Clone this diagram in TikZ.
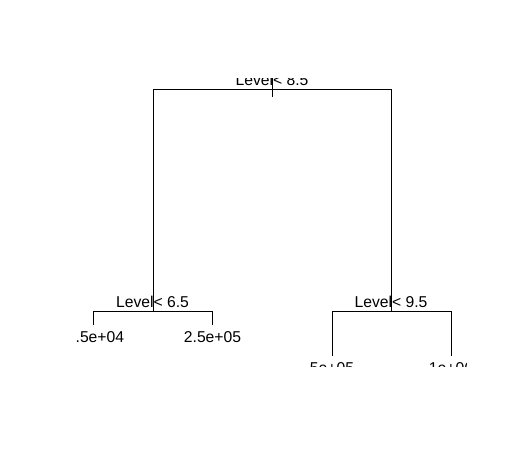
\documentclass[tikz,border=0pt]{standalone}
\usepackage{fontspec}
\setmainfont{Liberation Sans}
\begin{document}
\begin{tikzpicture}[x=1pt,y=-1pt,
  lbl/.style={inner sep=0pt,anchor=base,font=\fontsize{15.7}{18}\selectfont},
  br/.style={line width=0.9pt,black}]
\useasboundingbox[fill=white] (0,0) rectangle (506,464);
\begin{scope}
\clip (75.5,78) rectangle (466,366);
% tree node positions
\coordinate (root) at (272,89);
\coordinate (roottop) at (272,70);
\coordinate (rootbot) at (272,97);
\coordinate (rL) at (153,89);
\coordinate (rR) at (391,89);
\coordinate (n2) at (153,311);
\coordinate (n3) at (391,311);
\coordinate (n2L) at (93,311);
\coordinate (n2R) at (212,311);
\coordinate (n3L) at (332,311);
\coordinate (n3R) at (451,311);
\coordinate (l1) at (93,325);
\coordinate (l2) at (212,325);
\coordinate (l3) at (332,356);
\coordinate (l4) at (451,356);
% branches
\draw[br] (roottop) -- (rootbot);
\draw[br] (n2) -- (rL) -- (rR) -- (n3);
\draw[br] (l1) -- (n2L) -- (n2R) -- (l2);
\draw[br] (l3) -- (n3L) -- (n3R) -- (l4);
% labels
\node[lbl] (t1) at (272,85.3) {Level< 8.5};
\node[lbl] (t2) at (152.5,307.3) {Level< 6.5};
\node[lbl] (t3) at (391,307.3) {Level< 9.5};
\node[lbl] (t4) at (95.5,342) {2.5e+04};
\node[lbl] (t5) at (212.5,342) {2.5e+05};
\node[lbl] (t6) at (332,373) {5e+05};
\node[lbl] (t7) at (451,373) {1e+06};
\end{scope}
\end{tikzpicture}
\end{document}
